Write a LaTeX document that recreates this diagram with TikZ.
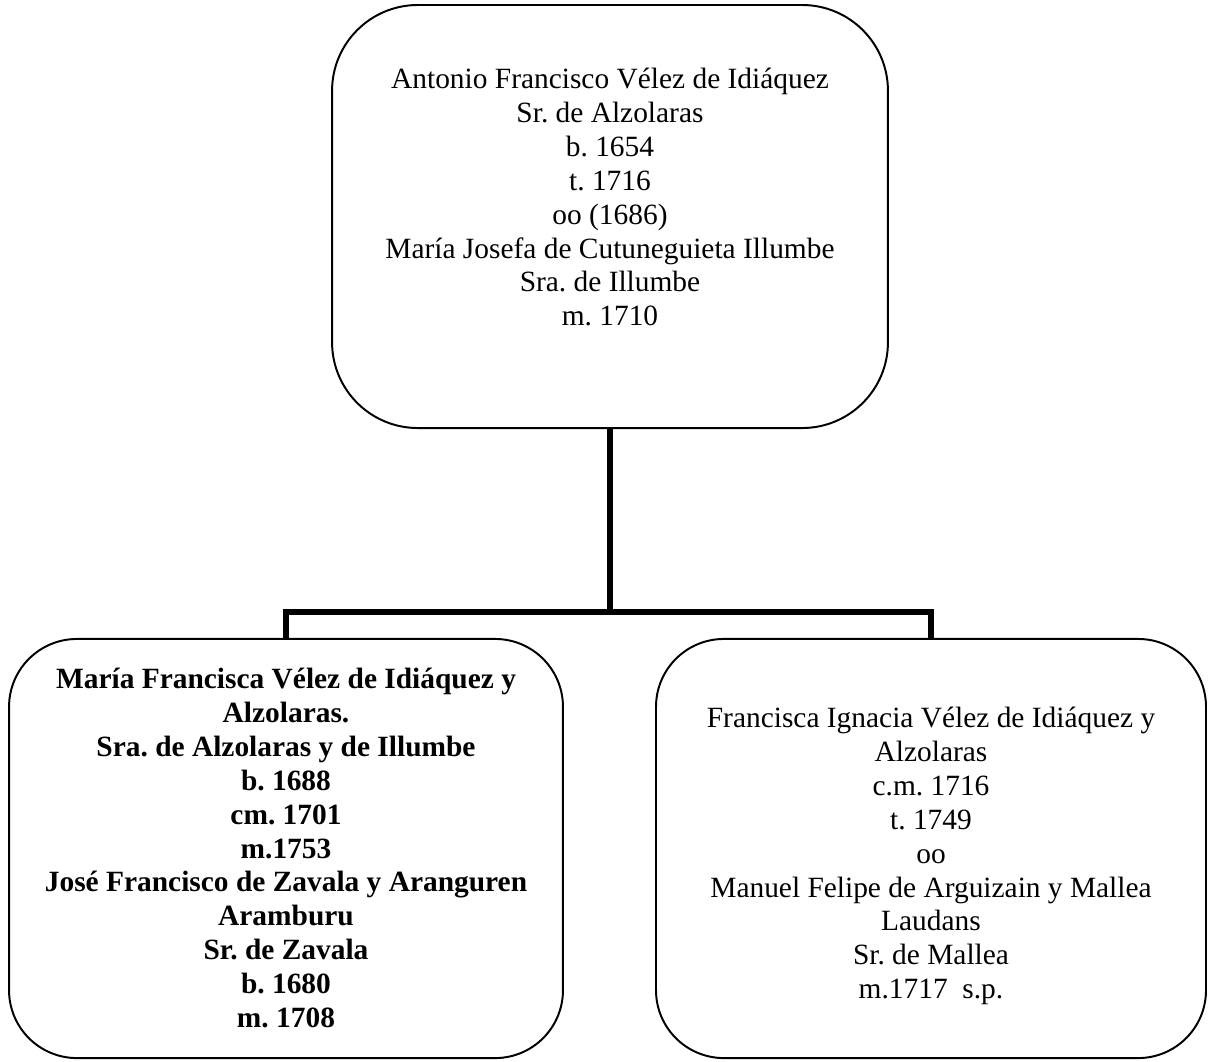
\documentclass[tikz,border=0pt]{standalone}
\usepackage{fontspec}
\setmainfont{Liberation Serif}
\frenchspacing
\begin{document}
\begin{tikzpicture}[x=0.408pt,y=-0.408pt,
  person/.style={draw=black, line width=0.8pt, inner sep=0pt},
  names/.style={align=center, inner sep=0pt, anchor=north,
    font=\fontsize{12pt}{13.8pt}\selectfont},
  link/.style={draw=black, line width=2.2pt, line join=miter}]
\useasboundingbox (0,0) rectangle (1210,1061);

% family boxes
\node[person, rounded corners=35pt, minimum width=226.8pt, minimum height=172.6pt]
  (parents) at (610,216.5) {};
\node[person, rounded corners=27.7pt, minimum width=226.0pt, minimum height=171.0pt]
  (heir) at (286,848.5) {};
\node[person, rounded corners=27.7pt, minimum width=224.4pt, minimum height=171.0pt]
  (sister) at (931,848.5) {};

% names and dates
\node[names] (parentsText) at (610,68) {Antonio Francisco Vélez de Idiáquez\\
  Sr. de Alzolaras\\ b. 1654\\ t. 1716\\ oo (1686)\\
  María Josefa de Cutuneguieta Illumbe\\ Sra. de Illumbe\\ m. 1710};
\node[names, font=\fontsize{12pt}{13.8pt}\selectfont\bfseries] (heirText) at (286,668)
  {María Francisca Vélez de Idiáquez y\\ Alzolaras.\\
  Sra. de Alzolaras y de Illumbe\\ b. 1688\\ cm. 1701\\ m.1753\\
  José Francisco de Zavala y Aranguren\\ Aramburu\\ Sr. de Zavala\\
  b. 1680\\ m. 1708};
\node[names] (sisterText) at (931,707) {Francisca Ignacia Vélez de Idiáquez y\\
  Alzolaras\\ c.m. 1716\\ t. 1749\\ oo\\
  Manuel Felipe de Arguizain y Mallea\\ Laudans\\ Sr. de Mallea\\
  m.1717\ \ s.p.};

% descent lines
\coordinate (fork) at (610,612);
\draw[link] (parents.south) -- (fork);
\draw[link] (heir.north) -- (heir.north |- fork) -- (sister.north |- fork) -- (sister.north);
\end{tikzpicture}
\end{document}
